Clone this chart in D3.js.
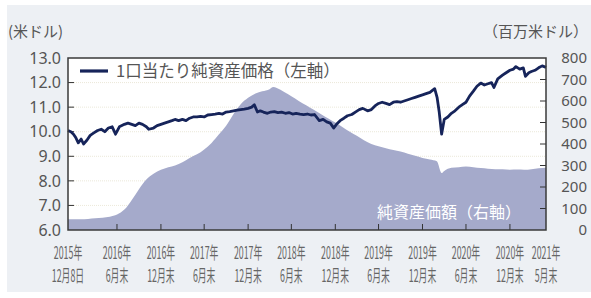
<!DOCTYPE html>
<html>
<head>
<meta charset="utf-8">
<script src="https://cdn.jsdelivr.net/npm/d3@7"></script>
<style>
  body { margin: 0; background: #fff; }
  svg { display: block; }
  text { font-family: "Noto Sans CJK JP", "Noto Sans", sans-serif; }
  .num { font-family: "Noto Sans", sans-serif; }
</style>
</head>
<body>
<svg width="591" height="298"></svg>
<script>
// 1口当たり純資産価格 (米ドル)
const navDates = ["2015-12-08","2015-12-20","2015-12-31","2016-01-10","2016-01-20","2016-02-01","2016-02-11","2016-02-25","2016-03-10","2016-03-25","2016-04-10","2016-04-25","2016-05-10","2016-05-25","2016-06-10","2016-06-24","2016-07-10","2016-07-31","2016-08-15","2016-08-31","2016-09-15","2016-09-30","2016-10-15","2016-10-31","2016-11-10","2016-11-30","2016-12-15","2016-12-31","2017-01-15","2017-01-31","2017-02-15","2017-02-28","2017-03-15","2017-03-31","2017-04-15","2017-04-30","2017-05-15","2017-05-31","2017-06-15","2017-06-30","2017-07-15","2017-07-31","2017-08-15","2017-08-31","2017-09-15","2017-09-30","2017-10-15","2017-10-31","2017-11-15","2017-11-30","2017-12-15","2017-12-31","2018-01-15","2018-01-26","2018-02-08","2018-02-20","2018-03-05","2018-03-22","2018-04-05","2018-04-20","2018-05-05","2018-05-20","2018-06-05","2018-06-20","2018-07-05","2018-07-20","2018-08-05","2018-08-20","2018-09-05","2018-09-20","2018-10-05","2018-10-25","2018-11-10","2018-11-25","2018-12-10","2018-12-24","2019-01-05","2019-01-20","2019-02-05","2019-02-20","2019-03-10","2019-03-25","2019-04-10","2019-04-25","2019-05-15","2019-05-31","2019-06-15","2019-06-30","2019-07-15","2019-07-31","2019-08-15","2019-08-31","2019-09-15","2019-09-30","2019-10-15","2019-10-31","2019-11-15","2019-11-30","2019-12-15","2019-12-31","2020-01-15","2020-01-31","2020-02-20","2020-03-01","2020-03-10","2020-03-20","2020-03-31","2020-04-15","2020-04-30","2020-05-15","2020-05-31","2020-06-15","2020-06-30","2020-07-15","2020-07-31","2020-08-15","2020-08-31","2020-09-15","2020-09-30","2020-10-15","2020-10-25","2020-11-10","2020-11-30","2020-12-15","2020-12-31","2021-01-15","2021-01-25","2021-02-10","2021-02-25","2021-03-06","2021-03-20","2021-03-31","2021-04-15","2021-04-30","2021-05-15","2021-05-31"]
const navValues = [10.05,10.0,9.9,9.75,9.55,9.7,9.5,9.65,9.85,9.95,10.05,10.1,10.0,10.15,10.2,9.9,10.2,10.3,10.35,10.3,10.25,10.35,10.3,10.2,10.1,10.15,10.25,10.3,10.35,10.4,10.45,10.5,10.45,10.5,10.45,10.55,10.6,10.6,10.62,10.6,10.68,10.7,10.72,10.75,10.72,10.8,10.82,10.85,10.88,10.9,10.92,10.95,11.0,11.1,10.8,10.85,10.8,10.75,10.8,10.82,10.78,10.8,10.75,10.78,10.72,10.75,10.72,10.7,10.72,10.68,10.7,10.45,10.5,10.4,10.35,10.15,10.3,10.45,10.55,10.65,10.7,10.8,10.9,10.95,10.85,10.9,11.05,11.15,11.2,11.15,11.1,11.2,11.22,11.2,11.25,11.3,11.35,11.4,11.45,11.5,11.55,11.6,11.75,11.4,10.8,9.9,10.5,10.6,10.75,10.85,11.0,11.1,11.2,11.45,11.65,11.85,11.98,11.9,11.95,12.0,11.8,12.15,12.3,12.4,12.5,12.55,12.65,12.55,12.6,12.25,12.4,12.45,12.5,12.6,12.68,12.62]

// 純資産価額 (百万米ドル)
const assetDates = ["2015-12-08","2016-01-31","2016-03-31","2016-05-31","2016-07-31","2016-08-31","2016-09-30","2016-10-31","2016-11-30","2016-12-31","2017-01-31","2017-02-28","2017-03-31","2017-04-30","2017-05-31","2017-06-30","2017-07-31","2017-08-31","2017-09-30","2017-10-31","2017-11-30","2017-12-31","2018-01-31","2018-02-28","2018-03-31","2018-04-15","2018-04-30","2018-05-31","2018-06-30","2018-07-31","2018-08-31","2018-09-30","2018-10-31","2018-11-30","2018-12-31","2019-01-31","2019-02-28","2019-03-31","2019-04-30","2019-05-31","2019-06-30","2019-07-31","2019-08-31","2019-09-30","2019-10-31","2019-11-30","2019-12-31","2020-01-31","2020-02-29","2020-03-20","2020-03-31","2020-04-30","2020-05-31","2020-06-30","2020-07-31","2020-08-31","2020-09-30","2020-10-31","2020-11-30","2020-12-31","2021-01-31","2021-02-28","2021-03-31","2021-04-30","2021-05-31"]
const assetValues = [50,50,55,62,95,140,190,235,262,280,292,300,315,335,352,375,405,445,485,540,585,615,635,645,655,665,660,642,622,600,580,560,540,520,500,478,458,438,418,400,390,380,372,365,355,345,335,328,320,265,275,290,292,295,292,288,285,283,282,280,281,280,283,287,290]

const leftTicks = [6, 7, 8, 9, 10, 11, 12, 13]
const rightTicks = [0, 100, 200, 300, 400, 500, 600, 700, 800]
const xTickDates = ["2015-12-08","2016-06-30","2016-12-31","2017-06-30","2017-12-31","2018-06-30","2018-12-31","2019-06-30","2019-12-31","2020-06-30","2020-12-31","2021-05-31"]
const xTickYears = ["2015年","2016年","2016年","2017年","2017年","2018年","2018年","2019年","2019年","2020年","2020年","2021年"]
const xTickMonths = ["12月8日","6月末","12月末","6月末","12月末","6月末","12月末","6月末","12月末","6月末","12月末","5月末"]

const parse = d3.timeParse("%Y-%m-%d")
const nav = navDates.map((d, i) => ({date: parse(d), v: navValues[i]}))
const assets = assetDates.map((d, i) => ({date: parse(d), v: assetValues[i]}))

let svg = d3.select("svg")
let pLeft = 68, pRight = 546, pTop = 58, pBottom = 230

// panel background
svg.append("rect").attr("x", 7).attr("y", 5).attr("width", 584).attr("height", 287).attr("fill", "#edf0f4")

let x = d3.scaleTime().domain([parse("2015-12-08"), parse("2021-05-31")]).range([pLeft, pRight])
let yL = d3.scaleLinear().domain([6, 13]).range([pBottom, pTop])
let yR = d3.scaleLinear().domain([0, 800]).range([pBottom, pTop])

svg.append("rect").attr("x", pLeft).attr("y", pTop).attr("width", pRight - pLeft).attr("height", pBottom - pTop).attr("fill", "#fff")

// grid
svg.append("g").selectAll("line")
  .data(leftTicks.slice(1, -1))
  .join("line")
  .attr("x1", pLeft).attr("x2", pRight)
  .attr("y1", d => yL(d)).attr("y2", d => yL(d))
  .attr("stroke", "#e6e2cf").attr("stroke-width", 0.8).attr("stroke-dasharray", "1,1")

// area
let area = d3.area().x(d => x(d.date)).y0(pBottom).y1(d => yR(d.v)).curve(d3.curveMonotoneX)
svg.append("path").datum(assets).attr("d", area).attr("fill", "#a5aacb")

// inside ticks
let tk = svg.append("g").attr("stroke", "#333").attr("stroke-width", 1)
tk.selectAll(".tl").data(leftTicks.slice(1, -1)).join("line").attr("class", "tl")
  .attr("x1", pLeft).attr("x2", pLeft + 6).attr("y1", d => yL(d)).attr("y2", d => yL(d))
tk.selectAll(".tr").data(rightTicks.slice(1, -1)).join("line").attr("class", "tr")
  .attr("x1", pRight - 6).attr("x2", pRight).attr("y1", d => yR(d)).attr("y2", d => yR(d))
tk.selectAll(".tx").data(xTickDates.slice(1, -1)).join("line").attr("class", "tx")
  .attr("x1", d => x(parse(d))).attr("x2", d => x(parse(d))).attr("y1", pBottom - 6).attr("y2", pBottom)

// nav line
let line = d3.line().x(d => x(d.date)).y(d => yL(d.v))
svg.append("path").datum(nav).attr("d", line)
  .attr("fill", "none").attr("stroke", "#16245a").attr("stroke-width", 2.8).attr("stroke-linejoin", "round")

// frame
svg.append("rect").attr("x", pLeft).attr("y", pTop).attr("width", pRight - pLeft).attr("height", pBottom - pTop)
  .attr("fill", "none").attr("stroke", "#3a3a3a").attr("stroke-width", 1.5)

// axis labels
svg.append("g").selectAll("text").data(leftTicks).join("text").attr("class", "num")
  .attr("x", 61).attr("y", d => yL(d)).attr("dy", "0.36em").attr("text-anchor", "end")
  .attr("font-size", 16).attr("fill", "#555").text(d => d.toFixed(1))
svg.append("g").selectAll("text").data(rightTicks).join("text").attr("class", "num")
  .attr("x", 587).attr("y", d => yR(d)).attr("dy", "0.36em").attr("text-anchor", "end")
  .attr("font-size", 15).attr("fill", "#555").text(d => d)

let xl = svg.append("g").selectAll("g").data(xTickDates).join("g")
  .attr("transform", d => "translate(" + x(parse(d)) + ",0) scale(0.52,1)")
xl.append("text").attr("y", 259).attr("text-anchor", "middle").attr("font-size", 17).attr("fill", "#666")
  .text((d, i) => xTickYears[i])
xl.append("text").attr("y", 282).attr("text-anchor", "middle").attr("font-size", 17).attr("fill", "#666")
  .text((d, i) => xTickMonths[i])

svg.append("text").attr("x", 8).attr("y", 37).attr("font-size", 15).attr("fill", "#555").text("(米ドル)")
svg.append("text").attr("x", 588).attr("y", 37).attr("text-anchor", "end").attr("font-size", 15).attr("fill", "#555").text("（百万米ドル）")

// legend
svg.append("line").attr("x1", 80).attr("x2", 108).attr("y1", 71).attr("y2", 71).attr("stroke", "#16245a").attr("stroke-width", 3.2)
svg.append("text").attr("x", 116).attr("y", 77).attr("font-size", 16.5).attr("fill", "#555").text("1口当たり純資産価格（左軸）")

svg.append("text").attr("x", 377).attr("y", 218).attr("font-size", 16).attr("fill", "#fff").text("純資産価額（右軸）")
</script>
</body>
</html>
